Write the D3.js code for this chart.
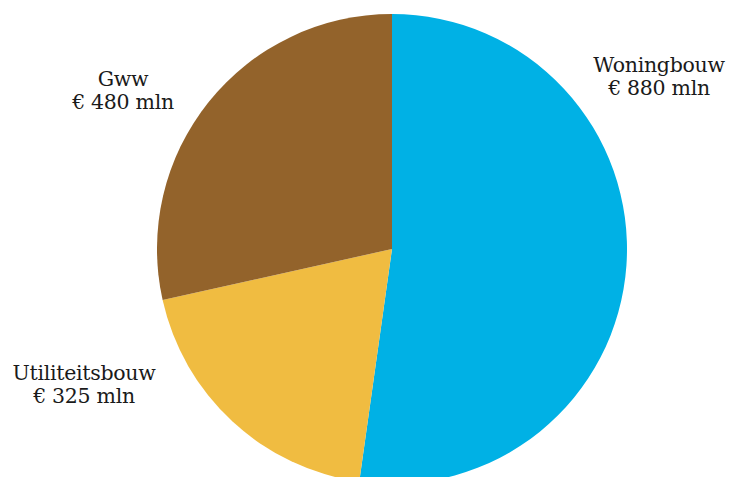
<!DOCTYPE html>
<html>
<head>
<meta charset="utf-8">
<script src="https://cdn.jsdelivr.net/npm/d3@7"></script>
<style>
  html, body { margin: 0; padding: 0; background: #fff; }
  svg { display: block; }
</style>
</head>
<body>
<svg id="chart" width="729" height="477"></svg>
<script>
// Bouwproductie per sector
const categories = ["Woningbouw", "Utiliteitsbouw", "Gww"];
const values = [880, 325, 480];
const valueLabels = ["€ 880 mln", "€ 325 mln", "€ 480 mln"];
const colors = ["#00b1e5", "#f0bc41", "#93632b"];

const svg = d3.select("#chart");
const cx = 392, cy = 249, radius = 235;

const pie = d3.pie().sort(null).value(d => d.value);
const arc = d3.arc().innerRadius(0).outerRadius(radius);

const data = categories.map((c, i) => ({ name: c, value: values[i], label: valueLabels[i], color: colors[i] }));

const g = svg.append("g").attr("transform", `translate(${cx},${cy})`);
g.selectAll("path")
  .data(pie(data))
  .join("path")
  .attr("d", arc)
  .attr("fill", d => d.data.color);

// Label positions placed beside each slice
const labelPos = {
  "Woningbouw": [659, 72],
  "Utiliteitsbouw": [84, 380],
  "Gww": [123, 86]
};

const labels = svg.append("g")
  .attr("font-family", "'DejaVu Serif', serif")
  .attr("font-size", 20.5)
  .attr("letter-spacing", -0.3)
  .attr("fill", "#1a1a1a")
  .attr("text-anchor", "middle");

data.forEach(d => {
  const [x, y] = labelPos[d.name];
  const t = labels.append("text").attr("x", x).attr("y", y);
  t.append("tspan").attr("x", x).attr("dy", 0).text(d.name);
  t.append("tspan").attr("x", x).attr("dy", 23).text(d.label);
});
</script>
</body>
</html>
